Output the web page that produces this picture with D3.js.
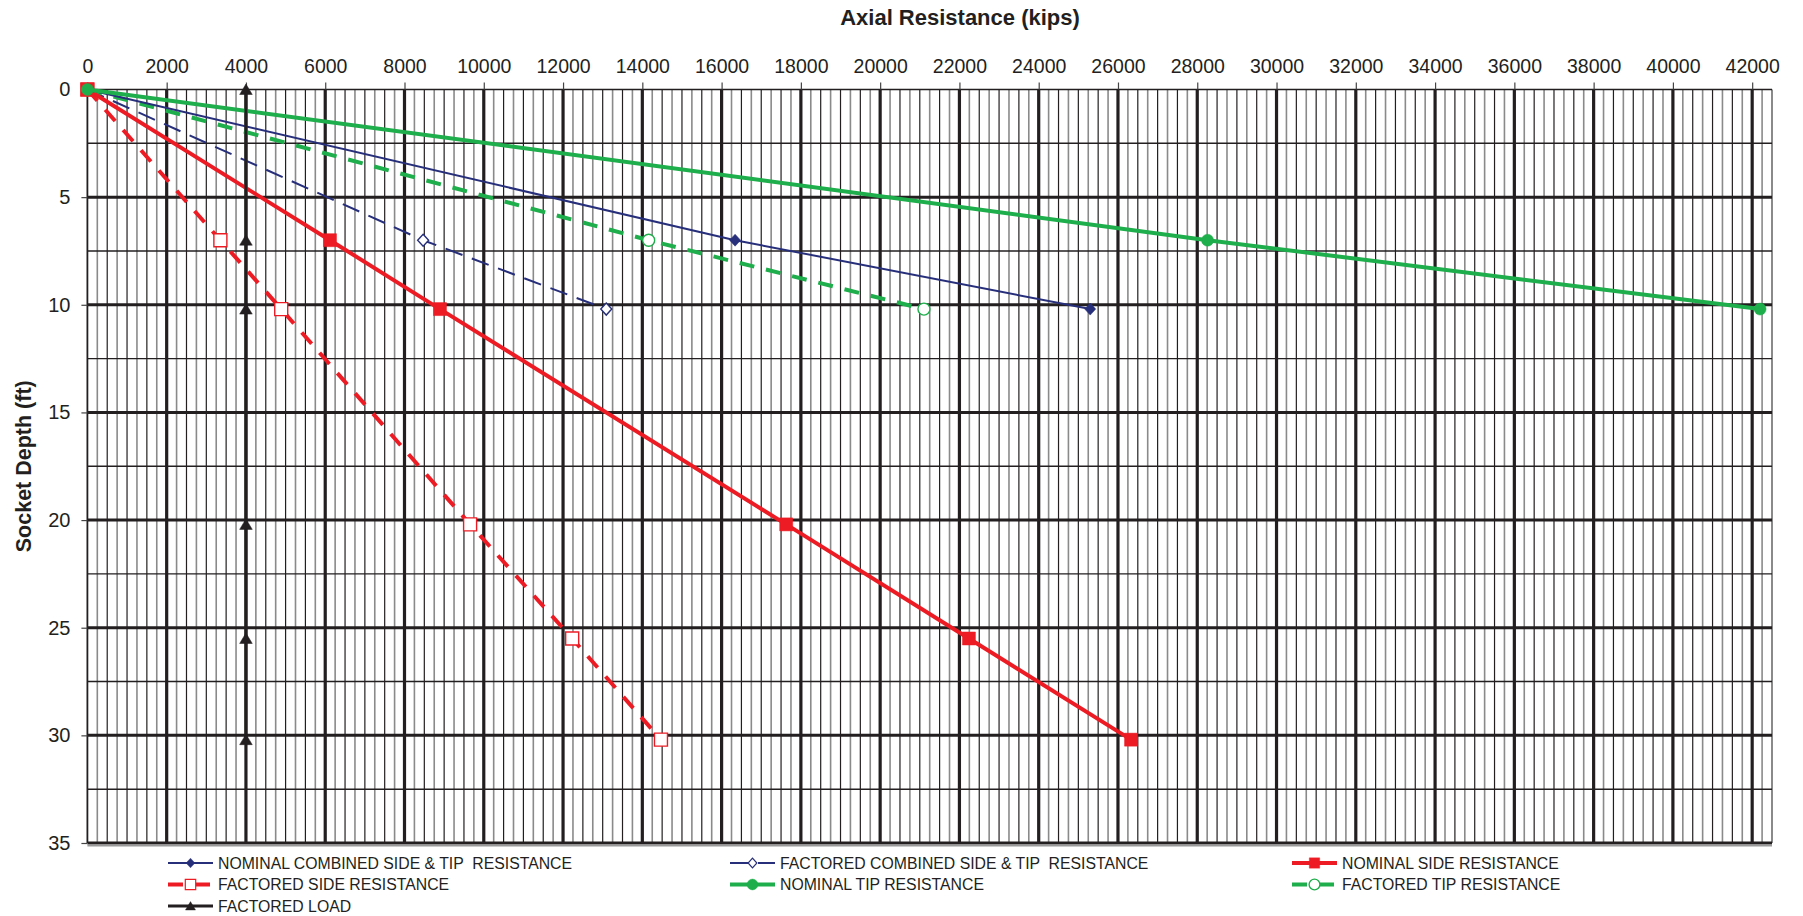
<!DOCTYPE html>
<html>
<head>
<meta charset="utf-8">
<script src="https://cdnjs.cloudflare.com/ajax/libs/d3/7.8.5/d3.min.js"></script>
<style>
	body { margin: 0; background: #fff; }
	svg { font-family: "Liberation Sans", Arial, Helvetica, sans-serif; }
	.axis text { fill: #231f20; }
	.axis line { stroke: #444; stroke-width: 1.2; }
	.axis path { display: none; }
	.legend text { white-space: pre; }
</style>
</head>
<body>
<div id="graph"></div>
<script>
// depths (ft) at which the resistances were computed
const depthSide = [0, 7, 10.2, 20.2, 25.5, 30.2];
const depthTip = [0, 7, 10.2];

// resistances (kips)
const nominalCombined = [0, 16340, 25300];
const factoredCombined = [0, 8470, 13090];
const nominalSide = [0, 6120, 8895, 17630, 22240, 26330];
const factoredSide = [0, 3355, 4890, 9655, 12230, 14470];
const nominalTip = [0, 28260, 42200];
const factoredTip = [0, 14160, 21105];
const factoredLoad = [4000, 4000, 4000, 4000, 4000, 4000];

// tick labels
const xTicks = d3.range(0, 42001, 2000);
const yTicks = [0, 5, 10, 15, 20, 25, 30, 35];

const seriesNames = [
	"NOMINAL COMBINED SIDE & TIP  RESISTANCE",
	"FACTORED COMBINED SIDE & TIP  RESISTANCE",
	"NOMINAL SIDE RESISTANCE",
	"FACTORED SIDE RESISTANCE",
	"NOMINAL TIP RESISTANCE",
	"FACTORED TIP RESISTANCE",
	"FACTORED LOAD"
];

const width = 1803, height = 916;
const padding = {left: 87.4, right: 31, top: 89.5, bottom: 73};
const ink = "#231f20";
const navy = "#272f7b", red = "#ed1c24", green = "#1eae4b";

function zip(xs, ys) { return xs.map((x, i) => ({x: x, y: ys[i]})); }

const series = [
	{name: seriesNames[0], data: zip(nominalCombined, depthTip), color: navy, width: 2, dash: null, marker: "diamond", open: false},
	{name: seriesNames[1], data: zip(factoredCombined, depthTip), color: navy, width: 2, dash: "18,10", marker: "diamond", open: true},
	{name: seriesNames[2], data: zip(nominalSide, depthSide), color: red, width: 4, dash: null, marker: "square", open: false},
	{name: seriesNames[3], data: zip(factoredSide, depthSide), color: red, width: 4, dash: "15,12", marker: "square", open: true},
	{name: seriesNames[4], data: zip(nominalTip, depthTip), color: green, width: 4, dash: null, marker: "circle", open: false},
	{name: seriesNames[5], data: zip(factoredTip, depthTip), color: green, width: 4, dash: "15,12", marker: "circle", open: true},
	{name: seriesNames[6], data: zip(factoredLoad, depthSide), color: ink, width: 3, dash: null, marker: "triangle", open: false}
];

// factored (open) curves go underneath, so the filled markers sit on top at the origin
const drawOrder = [1, 3, 5, 0, 2, 4, 6];

// marker outlines, centred on 0,0
function markerPath(type) {
	if (type == "diamond") return "M0,-6L5.5,0L0,6L-5.5,0Z";
	if (type == "square") return "M-6.5,-6.5H6.5V6.5H-6.5Z";
	if (type == "triangle") return "M0,-5.5L6.3,5L-6.3,5Z";
	return "M6,0A6,6 0 1,1 -6,0A6,6 0 1,1 6,0Z";
}

const graph = d3.select("div#graph")
	.append("svg")
	.attr("width", width)
	.attr("height", height);

const xScale = d3.scaleLinear()
	.domain([0, 42500])
	.range([padding.left, width - padding.right]);

const yScale = d3.scaleLinear()
	.domain([0, 35])
	.range([padding.top, height - padding.bottom]);

/* grid: every 250 kips and every 2.5 ft */
const grid = graph.append("g").attr("class", "grid");

grid.selectAll("line.v")
	.data(d3.range(0, 42501, 250))
	.enter()
	.append("line")
	.attr("class", "v")
	.attr("x1", d => xScale(d))
	.attr("x2", d => xScale(d))
	.attr("y1", yScale(0))
	.attr("y2", yScale(35))
	.attr("stroke", d => (d % 500 == 0 && d < 42500) ? ink : "#8a8a8a")
	.attr("stroke-width", function(d) {
		if (d == 0) return 1.8;
		if (d == 42500) return 2;
		if (d % 2000 == 0) return 3.2;
		if (d % 500 == 0) return 1.2;
		return 1.6;
	});

grid.selectAll("line.h")
	.data(d3.range(0, 35.1, 2.5))
	.enter()
	.append("line")
	.attr("class", "h")
	.attr("x1", xScale(0))
	.attr("x2", xScale(42500))
	.attr("y1", d => yScale(d))
	.attr("y2", d => yScale(d))
	.attr("stroke", ink)
	.attr("stroke-width", d => (d % 5 == 0 && d > 0) ? 3 : 1.4);

// gray shadow under the bottom edge
grid.append("line")
	.attr("x1", xScale(0))
	.attr("x2", xScale(42500))
	.attr("y1", yScale(35) + 2.6)
	.attr("y2", yScale(35) + 2.6)
	.attr("stroke", "#9a9a9a")
	.attr("stroke-width", 1.6);

/* axes */
const xAxis = d3.axisTop(xScale)
	.tickValues(xTicks)
	.tickFormat(d3.format("d"))
	.tickSizeInner(7)
	.tickSizeOuter(0)
	.tickPadding(10);

const yAxis = d3.axisLeft(yScale)
	.tickValues(yTicks)
	.tickFormat(d3.format("d"))
	.tickSizeInner(6)
	.tickSizeOuter(0)
	.tickPadding(11);

graph.append("g")
	.attr("class", "x axis")
	.attr("transform", `translate(0, ${padding.top})`)
	.call(xAxis)
	.selectAll("text")
	.style("font-size", "19.5px");

graph.append("g")
	.attr("class", "y axis")
	.attr("transform", `translate(${padding.left}, 0)`)
	.call(yAxis)
	.selectAll("text")
	.style("font-size", "20px");

graph.append("text")
	.attr("x", 960)
	.attr("y", 25)
	.style("text-anchor", "middle")
	.style("font-size", "22px")
	.style("font-weight", "bold")
	.attr("fill", ink)
	.text("Axial Resistance (kips)");

graph.append("text")
	.attr("transform", `translate(31, ${(yScale(0) + yScale(35)) / 2}) rotate(-90)`)
	.style("text-anchor", "middle")
	.style("font-size", "21.5px")
	.style("font-weight", "bold")
	.attr("fill", ink)
	.text("Socket Depth (ft)");

/* the resistance curves */
const line = d3.line()
	.x(d => xScale(d.x))
	.y(d => yScale(d.y));

const plot = graph.append("g").attr("class", "series");

for (let k = 0; k < drawOrder.length; k++) {
	const s = series[drawOrder[k]];
	const g = plot.append("g");
	g.append("path").datum(s.data)
		.attr("fill", "none")
		.attr("stroke", s.color)
		.attr("stroke-width", s.width)
		.attr("stroke-dasharray", s.dash)
		.attr("d", line);
	g.selectAll("path.mark")
		.data(s.data)
		.enter()
		.append("path")
		.attr("class", "mark")
		.attr("transform", d => `translate(${xScale(d.x)}, ${yScale(d.y)})`)
		.attr("d", markerPath(s.marker))
		.attr("fill", s.open ? "#fff" : s.color)
		.attr("stroke", s.color)
		.attr("stroke-width", s.open ? 1.4 : 0.5);
}

/* legend, three columns */
const legendCols = [168, 730, 1292];
const legendRows = [863, 884.5, 906];

const legend = graph.append("g").attr("class", "legend");

const item = legend.selectAll("g.item")
	.data(series)
	.enter()
	.append("g")
	.attr("class", "item")
	.attr("transform", (d, i) => `translate(${legendCols[i % 3]}, ${legendRows[Math.floor(i / 3)]})`);

item.append("line")
	.attr("x1", 0)
	.attr("x2", 45)
	.attr("stroke", d => d.color)
	.attr("stroke-width", d => d.width)
	.attr("stroke-dasharray", d => d.dash);

item.append("path")
	.attr("d", d => markerPath(d.marker))
	.attr("fill", d => d.open ? "#fff" : d.color)
	.attr("stroke", d => d.color)
	.attr("stroke-width", d => d.open ? 1.5 : 0.5)
	.attr("transform", d => "translate(22.5, 0) scale(" + (d.marker == "circle" ? 0.9 : 0.8) + ")");

item.append("text")
	.attr("x", 50)
	.attr("dy", "0.36em")
	.style("font-size", "15.8px")
	.attr("fill", ink)
	.text(d => d.name);
</script>
</body>
</html>
